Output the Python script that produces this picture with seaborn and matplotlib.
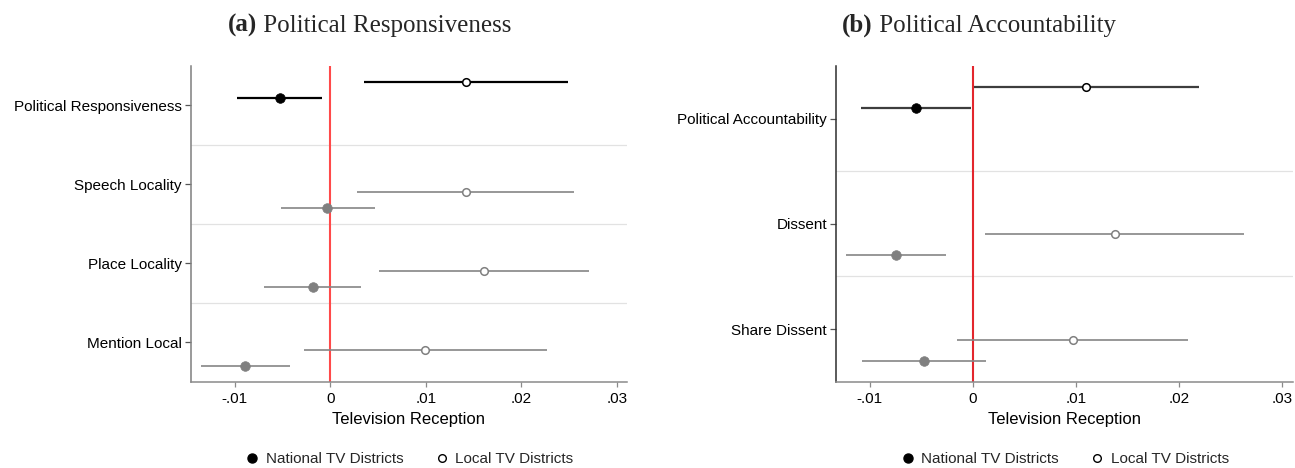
import matplotlib
matplotlib.use("Agg")
import matplotlib.pyplot as plt
import pandas as pd
import seaborn as sns
from matplotlib.lines import Line2D

# ---- estimates (coefficient and 95% CI) ----
resp_rows = ["Political Responsiveness", "Speech Locality", "Place Locality", "Mention Local"]
resp_nat = [-0.0053, -0.0003, -0.0018, -0.0089]
resp_nat_lo = [-0.0098, -0.0052, -0.0069, -0.0135]
resp_nat_hi = [-0.0009, 0.0047, 0.0032, -0.0042]
resp_loc = [0.0142, 0.0142, 0.0161, 0.0099]
resp_loc_lo = [0.0035, 0.0028, 0.0051, -0.0028]
resp_loc_hi = [0.0249, 0.0255, 0.0271, 0.0227]

acc_rows = ["Political Accountability", "Dissent", "Share Dissent"]
acc_nat = [-0.0055, -0.0074, -0.0047]
acc_nat_lo = [-0.0108, -0.0123, -0.0107]
acc_nat_hi = [-0.0002, -0.0026, 0.0013]
acc_loc = [0.0110, 0.0138, 0.0097]
acc_loc_lo = [0.0001, 0.0012, -0.0015]
acc_loc_hi = [0.0219, 0.0263, 0.0209]

x_ticks = [-0.01, 0.0, 0.01, 0.02, 0.03]
x_tick_labels = ["-.01", "0", ".01", ".02", ".03"]
groups = ["National TV Districts", "Local TV Districts"]

sns.set_theme(style="white")
plt.rcParams["font.family"] = ["Liberation Sans", "DejaVu Sans"]

# vertical offsets within each row band (index vs. component rows)
OFFSETS = {True: {groups[0]: -0.10, groups[1]: -0.30},
           False: {groups[0]: 0.30, groups[1]: 0.10}}


def build(rows, nat, nat_lo, nat_hi, loc, loc_lo, loc_hi):
    recs = []
    for i, r in enumerate(rows):
        for g, est, lo, hi in ((groups[0], nat[i], nat_lo[i], nat_hi[i]),
                               (groups[1], loc[i], loc_lo[i], loc_hi[i])):
            recs.append(dict(row=r, idx=i, group=g, est=est, lo=lo, hi=hi,
                             headline=(i == 0)))
    df = pd.DataFrame(recs)
    df["ypos"] = [r.idx + OFFSETS[r.headline][r.group] for r in df.itertuples()]
    return df


def draw_panel(ax, df, rows, xlim, head_line_col, spine_col, red):
    n = len(rows)
    for i in range(n - 1):
        ax.axhline(i + 0.5, color="#e2e2e2", lw=0.9, zorder=0)
    ax.axvline(0, color=red, lw=1.5, zorder=1)

    for head, line_col, mk_col in ((True, head_line_col, "black"),
                                    (False, "#858585", "#808080")):
        sub = df[df.headline == head]
        ax.hlines(sub["ypos"], sub["lo"], sub["hi"], color=line_col,
                  lw=1.6 if head else 1.2, zorder=2)
        nat = sub[sub.group == groups[0]]
        loc = sub[sub.group == groups[1]]
        sns.scatterplot(data=nat, x="est", y="ypos", ax=ax, s=48,
                        color=mk_col, edgecolor=mk_col, linewidth=0.5,
                        legend=False, zorder=3)
        sns.scatterplot(data=loc, x="est", y="ypos", ax=ax, s=30,
                        facecolor="white", edgecolor=mk_col, linewidth=1.1,
                        legend=False, zorder=3)

    ax.set_ylim(n - 0.5, -0.5)
    ax.set_yticks(range(n))
    ax.set_yticklabels(rows, fontsize=11, color="black")
    ax.set_xlim(*xlim)
    ax.set_xticks(x_ticks)
    ax.set_xticklabels(x_tick_labels, fontsize=11, color="black")
    ax.set_xlabel("Television Reception", fontsize=12, color="black", labelpad=4)
    ax.set_ylabel("")
    for s in ("top", "right"):
        ax.spines[s].set_visible(False)
    ax.spines["left"].set_color(spine_col)
    ax.spines["left"].set_linewidth(1.1)
    ax.spines["bottom"].set_color("#8a8a8a")
    ax.spines["bottom"].set_linewidth(1.1)
    ax.tick_params(axis="y", length=4.5, width=0.9, color="#555555", pad=2, left=True)
    ax.tick_params(axis="x", length=3.6, width=0.9, color="#8a8a8a", pad=4, bottom=True)
    ax.grid(False)

    handles = [Line2D([], [], ls="", marker="o", ms=6.5, mfc="black", mec="black"),
               Line2D([], [], ls="", marker="o", ms=5.5, mfc="white", mec="black", mew=1.0)]
    ax.legend(handles, groups, loc="center", bbox_to_anchor=(0.5, -0.245), ncol=2,
              frameon=False, fontsize=11, handletextpad=0.4, columnspacing=2.0,
              handlelength=1.0)


fig = plt.figure(figsize=(12.95, 4.68), dpi=100)
H = 468.0
ax1 = fig.add_axes([191 / 1295, 1 - 381.7 / H, 436 / 1295, 315.7 / H])
ax2 = fig.add_axes([836 / 1295, 1 - 381.7 / H, 457 / 1295, 315.7 / H])

df_resp = build(resp_rows, resp_nat, resp_nat_lo, resp_nat_hi, resp_loc, resp_loc_lo, resp_loc_hi)
df_acc = build(acc_rows, acc_nat, acc_nat_lo, acc_nat_hi, acc_loc, acc_loc_lo, acc_loc_hi)

draw_panel(ax1, df_resp, resp_rows, (-0.01459, 0.03108), "black", "#7f7f7f", "#ff4a4a")
draw_panel(ax2, df_acc, acc_rows, (-0.01325, 0.03104), "#3d3d3d", "#2e2e2e", "#e3262d")


def panel_title(tag, text, cx, baseline_y):
    t1 = fig.text(0, baseline_y, tag, fontsize=18, fontweight="bold",
                  family="Liberation Serif", va="baseline", ha="left")
    t2 = fig.text(0, baseline_y, " " + text, fontsize=18,
                  family="Liberation Serif", va="baseline", ha="left")
    fig.canvas.draw()
    r = fig.canvas.get_renderer()
    w1 = t1.get_window_extent(r).width / fig.bbox.width
    w2 = t2.get_window_extent(r).width / fig.bbox.width
    x0 = cx - (w1 + w2) / 2
    t1.set_x(x0)
    t2.set_x(x0 + w1)


panel_title("(a)", "Political Responsiveness", 370 / 1295, 1 - 32 / H)
panel_title("(b)", "Political Accountability", 979 / 1295, 1 - 32 / H)

fig.savefig("out.png", dpi=100)
